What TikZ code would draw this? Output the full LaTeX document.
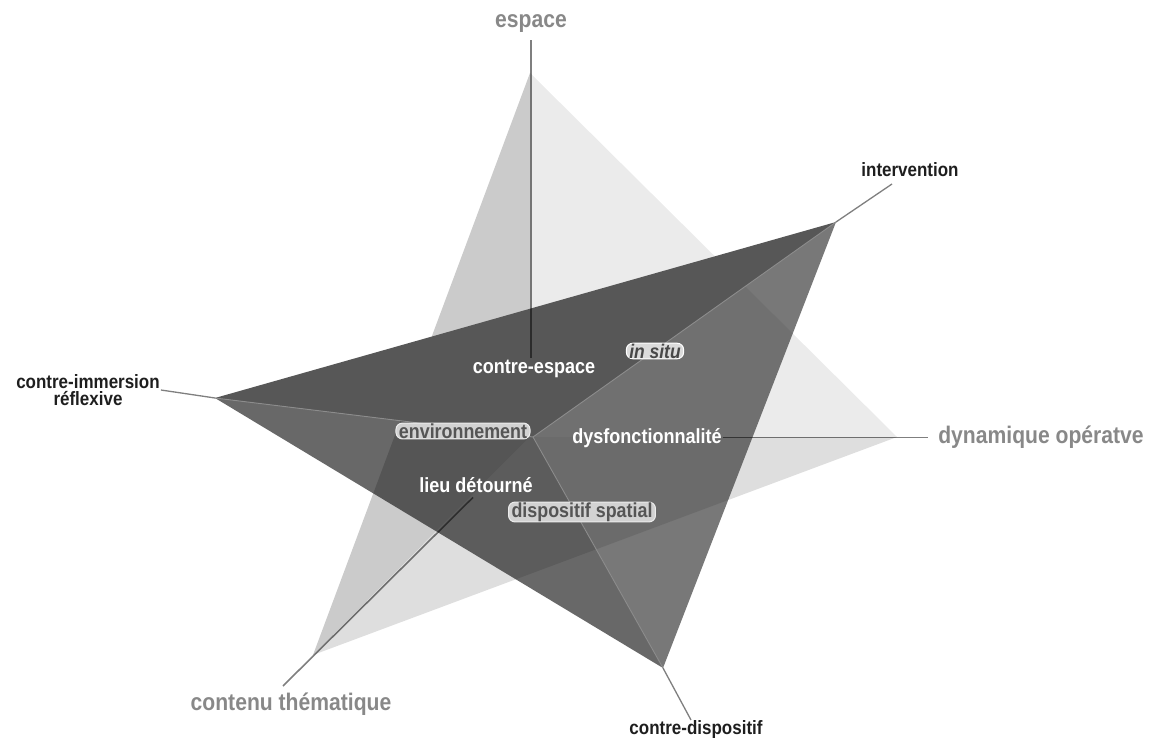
\documentclass[tikz,border=0pt]{standalone}
\usepackage{fontspec}
\usetikzlibrary{calc}
\setmainfont{Liberation Sans}
\newfontfamily\labfont[FakeStretch=0.88]{Liberation Sans}
\definecolor{lightleft}{HTML}{CBCBCB}
\definecolor{lightright}{HTML}{EBEBEB}
\definecolor{lightbottom}{HTML}{DEDEDE}
\definecolor{darktop}{HTML}{575757}
\definecolor{darkleftc}{HTML}{121212}
\definecolor{darkrightc}{HTML}{2A2A2A}
\definecolor{ridgegray}{HTML}{8C8C8C}
\definecolor{labgray}{HTML}{888888}
\definecolor{labblack}{HTML}{1E1E1E}
\definecolor{pillfill}{HTML}{D2D2D2}
\definecolor{pillborder}{HTML}{ECECEC}
\definecolor{pilltext}{HTML}{555555}
\begin{document}
\begin{tikzpicture}[x=1pt,y=-1pt,
  graylab/.style={text=labgray,font=\labfont\fontsize{24}{26}\selectfont\bfseries,inner sep=1pt,anchor=base},
  blacklab/.style={text=labblack,font=\labfont\fontsize{19.3}{17}\selectfont\bfseries,inner sep=1pt,align=center},
  whitelab/.style={text=white,font=\labfont\fontsize{20.5}{21}\selectfont\bfseries,inner sep=1pt,anchor=base},
  pill/.style={fill=pillfill,draw=pillborder,line width=1pt,rounded corners=6.5pt,text=pilltext,
    font=\labfont\fontsize{20.3}{21}\selectfont\bfseries,inner ysep=0.5pt,inner xsep=3pt},
  leader/.style={draw=black,draw opacity=0.5,line width=1.6pt},
  ridge/.style={draw=ridgegray,line width=0.9pt},
  facet/.style={fill opacity=0.635},
]
\useasboundingbox (0,0) rectangle (1157,738);
% light pyramid
\coordinate (E) at (530,73);
\coordinate (D) at (897,437);
\coordinate (C) at (313,655);
\coordinate (L) at (530,437);
% dark pyramid
\coordinate (I) at (836,222);
\coordinate (R) at (215,398);
\coordinate (K) at (663,668);
\coordinate (M) at (533,437);

\fill[lightleft] (E) -- (C) -- (L) -- cycle;
\fill[lightright] (E) -- (D) -- (L) -- cycle;
\fill[lightbottom] (C) -- (D) -- (L) -- cycle;

\fill[darkleftc,facet] (R) -- (M) -- (K) -- cycle;
\fill[darkrightc,facet] (I) -- (M) -- (K) -- cycle;
\fill[darktop] (R) -- (I) -- (M) -- cycle;
\draw[ridge] (R) -- (M) -- (I);
\draw[ridge] (M) -- (K);

% labels
\node[graylab] (espace) at (531,28) {espace};
\node[graylab] (dyn) at (1041,443) {dynamique opératve};
\node[graylab] (cont) at (291,710) {contenu thématique};
\node[blacklab,anchor=base] (interv) at (910,177) {intervention};
\node[blacklab] (cim) at (88,390) {contre-immersion\\réflexive};
\node[blacklab,anchor=base] (cdis) at (696,734) {contre-dispositif};
\node[whitelab] (cesp) at (534,373) {contre-espace};
\node[whitelab] (dysf) at (647,443) {dysfonctionnalité};
\node[whitelab] (lieu) at (476,492) {lieu détourné};
\node[pill] (env) at (463,431) {environnement};
\node[pill,font=\labfont\fontsize{19.8}{21}\selectfont\bfseries\itshape,fill=pillfill!80!white,draw=white,text=pilltext!85!black] (insitu) at (655,351) {in situ};
\node[pill] (dspat) at (582,512) {dispositif spatial};

% connectors
\coordinate (iv-tip) at (892,184);
\coordinate (ct-tip) at (283,686);
\coordinate (cd-tip) at (691,720);
\draw[leader,shorten <=6pt] (espace.south) -- (espace.south |- cesp.north);
\draw[leader,line width=1.3pt] (I) -- (iv-tip);
\draw[leader,line width=1.3pt] (cim.east) -- (R);
\draw[leader,line width=1.3pt] (K) -- (cd-tip);
\draw[leader,shorten >=9pt] (dysf.east) -- (dysf.east -| dyn.west);
\draw[leader] (ct-tip) -- ($(lieu.south)+(-3,4)$);
\end{tikzpicture}
\end{document}
